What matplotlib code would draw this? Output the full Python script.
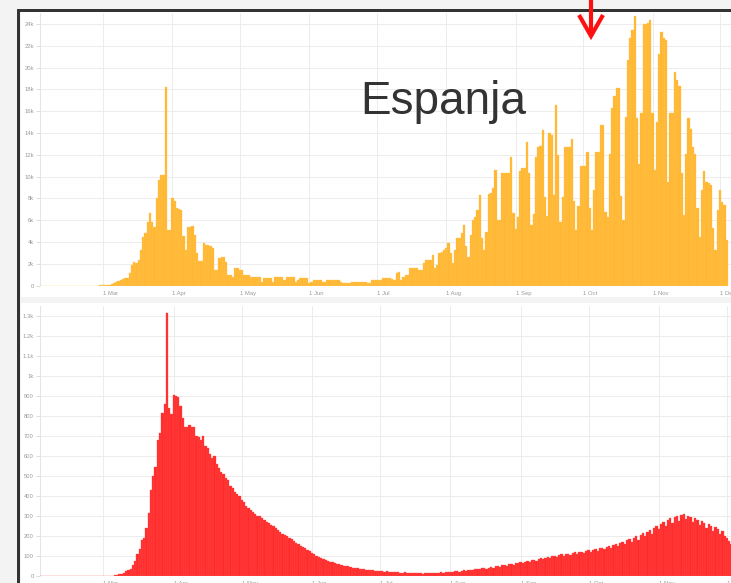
import numpy as np
import pandas as pd
import matplotlib
matplotlib.use("Agg")
import matplotlib.pyplot as plt
from matplotlib.patches import Rectangle

# ---------------- data ----------------
start_date = "2020-02-01"
month_ticks = ["2020-03-01", "2020-04-01", "2020-05-01", "2020-06-01", "2020-07-01",
               "2020-08-01", "2020-09-01", "2020-10-01", "2020-11-01", "2020-12-01"]
month_labels = ["1 Mar", "1 Apr", "1 May", "1 Jun", "1 Jul", "1 Aug", "1 Sep", "1 Oct", "1 Nov", "1 Dec"]

cases_feb = [0]*20 + [1, 0, 1, 2, 3, 5, 8, 12, 20]
cases_mar = [30, 45, 60, 80, 120, 250, 350, 450, 550, 650, 700, 700, 1160, 1900, 2200, 2100,
             2350, 3270, 4500, 4800, 5870, 6650, 5870, 5400, 8050, 9700, 10150, 10150, 18200, 5100, 5100]
cases_apr = [8050, 7800, 7100, 7000, 6900, 4600, 3270, 5400, 5400, 5500, 4650, 3000, 2300, 2300, 3900,
             3700, 3700, 3600, 3500, 1450, 1450, 2530, 2600, 2600, 2150, 1000, 1000, 830, 1620, 1620]
cases_may = [1450, 1450, 980, 980, 980, 830, 830, 830, 830, 830, 370, 675, 675, 675, 675, 370, 830,
             830, 830, 830, 500, 830, 830, 830, 830, 370, 500, 675, 675, 675, 675]
cases_jun = [220, 350, 520, 520, 520, 520, 370, 300, 520, 520, 520, 520, 520, 520, 300, 220, 220,
             220, 220, 300, 370, 370, 370, 370, 370, 370, 250, 220, 520, 520]
cases_jul = [520, 520, 500, 675, 675, 675, 675, 600, 500, 1150, 1300, 500, 830, 1000, 1000, 1600,
             1600, 1600, 1600, 1450, 1450, 2100, 2400, 2400, 2400, 2800, 1600, 1900, 3000, 3100, 3300]
cases_aug = [3500, 3900, 3000, 2100, 3300, 4400, 4400, 4800, 5600, 3600, 2600, 4650, 6000, 6300,
             6950, 8300, 4400, 3300, 4900, 8400, 8500, 8950, 10600, 6000, 6000, 10300, 10300, 10300,
             10300, 11800, 6700]
cases_sep = [5200, 6300, 10500, 10800, 10800, 13200, 10300, 5600, 6600, 11800, 12700, 12800, 14300,
             8150, 6400, 14000, 13800, 8300, 16600, 12000, 5870, 8100, 12700, 12700, 12700, 13500,
             7800, 5100, 7300, 11000]
cases_oct = [11000, 11000, 12300, 7100, 5100, 8800, 12300, 12300, 14700, 14700, 6800, 6300, 12100,
             16300, 17400, 18100, 18100, 8200, 6000, 15500, 20700, 22700, 23500, 24700, 15400, 11200,
             15800, 24000, 24000, 24100, 24400]
cases_nov = [15800, 10600, 15000, 21300, 23300, 22700, 22500, 9500, 15800, 15800, 19600, 18900,
             18300, 10300, 6500, 12100, 15400, 14400, 12700, 12100, 7100, 4500, 8800, 10500, 9500,
             9400, 9200, 5300, 3300, 6900]
cases_dec = [8800, 7700, 7400, 4200]

deaths_feb = [0]*29
deaths_mar = [0, 0, 0, 1, 2, 3, 5, 8, 10, 15, 25, 30, 35, 55, 75, 110, 135, 180, 190, 240, 315, 430,
              500, 545, 680, 717, 813, 860, 1313, 840, 810]
deaths_apr = [905, 900, 893, 850, 790, 743, 747, 755, 743, 747, 700, 693, 680, 700, 650, 640, 610,
              590, 600, 560, 540, 520, 510, 490, 480, 450, 440, 420, 410, 400]
deaths_may = [380, 370, 350, 340, 330, 320, 310, 300, 300, 290, 280, 270, 265, 255, 250, 240, 230,
              220, 210, 205, 200, 190, 185, 175, 165, 160, 150, 145, 140, 130, 125]
deaths_jun = [115, 110, 100, 95, 90, 85, 80, 75, 72, 68, 65, 60, 58, 55, 52, 50, 48, 45, 42, 40,
              38, 36, 35, 33, 32, 30, 30, 28, 27, 26]
deaths_jul = [25, 24, 22, 23, 20, 21, 19, 18, 20, 17, 16, 18, 15, 16, 14, 15, 13, 15, 14, 12, 14,
              13, 15, 14, 16, 15, 17, 18, 16, 19, 20]
deaths_aug = [21, 19, 23, 25, 22, 26, 28, 27, 30, 32, 29, 34, 36, 33, 38, 40, 37, 42, 45, 41, 48,
              50, 47, 53, 55, 51, 58, 60, 57, 63, 65]
deaths_sep = [68, 64, 72, 75, 70, 78, 82, 77, 85, 88, 83, 92, 95, 90, 98, 102, 96, 105, 108, 101,
              110, 112, 106, 115, 118, 112, 120, 122, 116, 125]
deaths_oct = [128, 121, 130, 135, 126, 138, 140, 133, 145, 150, 140, 155, 160, 148, 165, 172, 160,
              178, 185, 170, 190, 198, 182, 205, 215, 200, 220, 230, 210, 240, 250]
deaths_nov = [235, 260, 270, 250, 280, 290, 265, 295, 300, 275, 305, 310, 285, 300, 295, 270, 290,
              280, 255, 275, 265, 240, 260, 250, 225, 245, 235, 210, 225, 200]
deaths_dec = [190, 175, 160, 150, 165, 150]

top_yticks = [0, 2000, 4000, 6000, 8000, 10000, 12000, 14000, 16000, 18000, 20000, 22000, 24000]
top_ylabels = ["0", "2k", "4k", "6k", "8k", "10k", "12k", "14k", "16k", "18k", "20k", "22k", "24k"]
bot_yticks = [0, 100, 200, 300, 400, 500, 600, 700, 800, 900, 1000, 1100, 1200, 1300]
bot_ylabels = ["0", "100", "200", "300", "400", "500", "600", "700", "800", "900", "1k", "1.1k", "1.2k", "1.3k"]

title_text = "Espanja"

# ---------------- build ----------------
cases = (cases_feb + cases_mar + cases_apr + cases_may + cases_jun + cases_jul + cases_aug +
         cases_sep + cases_oct + cases_nov + cases_dec)
deaths = (deaths_feb + deaths_mar + deaths_apr + deaths_may + deaths_jun + deaths_jul + deaths_aug +
          deaths_sep + deaths_oct + deaths_nov + deaths_dec)

t0 = pd.Timestamp("2020-03-01")
cases_days = ((pd.date_range(start_date, periods=len(cases)) - t0).days).to_numpy()
deaths_days = ((pd.date_range(start_date, periods=len(deaths)) - t0).days).to_numpy()
tick_days = [(pd.Timestamp(d) - t0).days for d in month_ticks]

W, H = 731, 583
fig = plt.figure(figsize=(W / 100, H / 100), dpi=100)
fig.patch.set_facecolor("#f3f3f3")
plt.rcParams["font.family"] = ["Liberation Sans", "DejaVu Sans"]

# background decoration layer in pixel coordinates
bg = fig.add_axes([0, 0, 1, 1])
bg.set_xlim(0, W)
bg.set_ylim(H, 0)
bg.axis("off")
bg.add_patch(Rectangle((17, 9), 800, 700, facecolor="#333333", edgecolor="none"))
bg.add_patch(Rectangle((20, 11.5), 800, 700, facecolor="#f3f3f3", edgecolor="none"))
bg.add_patch(Rectangle((21, 12), 800, 285, facecolor="white", edgecolor="none"))
bg.add_patch(Rectangle((21, 303), 800, 400, facecolor="white", edgecolor="none"))


def frac(x0, y0, x1, y1):
    return [x0 / W, 1 - y1 / H, (x1 - x0) / W, (y1 - y0) / H]


def style(ax, yticks, ylabels):
    ax.set_facecolor("none")
    for s in ax.spines.values():
        s.set_visible(False)
    ax.set_yticks(yticks)
    ax.set_yticklabels(ylabels)
    ax.set_xticks(tick_days)
    ax.set_xticklabels(month_labels, ha="left")
    ax.grid(True, color="#ececec", linewidth=0.7)
    ax.set_axisbelow(True)
    ax.tick_params(axis="y", length=2.9, width=0.6, color="#d8d8d8", pad=1.6,
                   labelsize=4.2, labelcolor="#9a9a9a")
    ax.tick_params(axis="x", length=0, pad=3.5, labelsize=4.2, labelcolor="#9a9a9a")
    ax.axvline(ax.get_xlim()[0], color="#e4e4e4", linewidth=0.8, zorder=0)


# top panel: cases
ax1 = fig.add_axes(frac(40, 285.7 - 25000 / 91.74, 40 + 2.244 * (285 + 28), 285.7))
ax1.bar(cases_days, cases, width=1.0, color="#ffb730", edgecolor="#ffc65c", linewidth=0.25)
ax1.set_xlim(-28, 285)
ax1.set_ylim(0, 25000)
style(ax1, top_yticks, top_ylabels)

# bottom panel: deaths
ax2 = fig.add_axes(frac(40, 576 - 1350 * 0.2, 40 + 2.267 * (285 + 28), 576))
ax2.bar(deaths_days, deaths, width=1.0, color="#ff2b2b", edgecolor="#ff5050", linewidth=0.25)
ax2.set_xlim(-28, 285)
ax2.set_ylim(0, 1350)
style(ax2, bot_yticks, bot_ylabels)

# overlay: title text and arrow
ov = fig.add_axes([0, 0, 1, 1])
ov.set_xlim(0, W)
ov.set_ylim(H, 0)
ov.axis("off")
ov.text(443, 102, title_text, fontsize=33, color="#333333", ha="center", va="center",
        family=["Liberation Sans", "DejaVu Sans"])
ov.plot([591, 591], [-2, 35], color="#ff1010", linewidth=3.0, solid_capstyle="butt")
ov.plot([579, 591, 603], [15, 36, 15], color="#ff1010", linewidth=3.0,
        solid_joinstyle="miter", solid_capstyle="butt")

fig.savefig("out.png", dpi=100, facecolor=fig.get_facecolor())
